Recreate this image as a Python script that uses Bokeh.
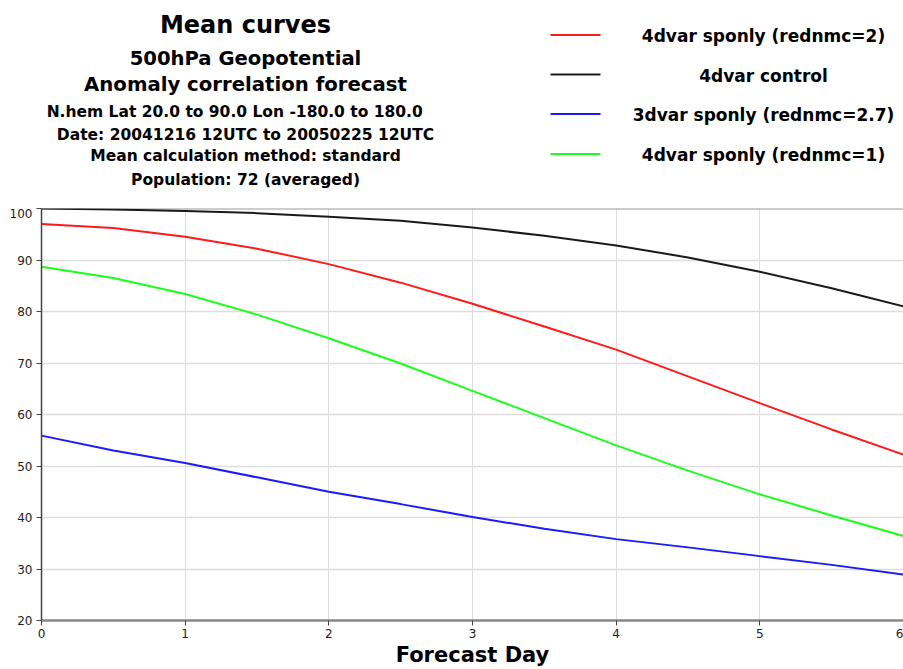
from bokeh.plotting import figure
from bokeh.layouts import column
from bokeh.models import Span, FixedTicker, ColumnDataSource
from bokeh.core.properties import value
from bokeh.embed import file_html
from bokeh.resources import INLINE

days = [0, 0.5, 1, 1.5, 2, 2.5, 3, 3.5, 4, 4.5, 5, 5.5, 6]
red_sponly2 = [97.0, 96.2, 94.5, 92.2, 89.2, 85.6, 81.5, 77.1, 72.6, 67.4, 62.2, 57.1, 52.2]
control = [100.0, 99.8, 99.5, 99.1, 98.4, 97.6, 96.3, 94.7, 92.8, 90.5, 87.7, 84.5, 81.0]
blue_3dvar = [55.9, 53.0, 50.6, 47.8, 45.0, 42.6, 40.1, 37.8, 35.8, 34.2, 32.5, 30.8, 28.9]
green_sponly1 = [88.7, 86.5, 83.4, 79.4, 74.8, 69.9, 64.6, 59.3, 54.0, 49.1, 44.5, 40.4, 36.4]

series_names = ["4dvar sponly (rednmc=2)", "4dvar control",
                "3dvar sponly (rednmc=2.7)", "4dvar sponly (rednmc=1)"]
series_values = [red_sponly2, control, blue_3dvar, green_sponly1]
series_colors = ["#ff1a1a", "#1a1a1a", "#1a1aff", "#1aff1a"]

x_ticks = [0, 1, 2, 3, 4, 5, 6]
y_ticks = [20, 30, 40, 50, 60, 70, 80, 90, 100]

title_lines = ["Mean curves", "500hPa Geopotential", "Anomaly correlation forecast",
               "N.hem  Lat  20.0 to 90.0 Lon  -180.0 to  180.0",
               "Date: 20041216 12UTC to 20050225 12UTC",
               "Mean calculation method: standard",
               "Population: 72 (averaged)"]

FONT = "DejaVu Sans"

# ---- header (title block + legend), pixel-space figure ----
head = figure(width=903, height=208, output_backend="svg", toolbar_location=None,
              x_range=(41, 903), y_range=(208, 0),
              min_border_left=41, min_border_right=0, min_border_top=0, min_border_bottom=0)
head.axis.visible = False
head.grid.visible = False
head.outline_line_color = None
head.background_fill_color = "white"
head.border_fill_color = "white"

title_sizes = ["24px", "19.6px", "19.7px", "15.5px", "15.5px", "15.5px", "15.5px"]
title_y = [24, 58, 83.5, 111.5, 134, 155.5, 179]
for txt, fs, ty in zip(title_lines, title_sizes, title_y):
    head.text(x=[245], y=[ty], text=[txt], text_font=value(FONT), text_font_size=fs,
              text_font_style="bold", text_align="center", text_baseline="middle",
              text_color="black")

leg_y = [34.5, 74, 113.5, 153.5]
for name, col, ly in zip(series_names, series_colors, leg_y):
    head.segment(x0=[550], y0=[ly], x1=[600], y1=[ly], line_color=col, line_width=2)
    head.text(x=[763], y=[ly + 1], text=[name], text_font=value(FONT), text_font_size="17px",
              text_font_style="bold", text_align="center", text_baseline="middle",
              text_color="black")

# ---- main chart ----
p = figure(width=903, height=461, output_backend="svg", toolbar_location=None,
           x_range=(0, 6), y_range=(20, 100),
           min_border_left=41, min_border_right=0, min_border_top=0, min_border_bottom=46)
p.outline_line_color = None
p.background_fill_color = "white"
p.border_fill_color = "white"

p.xgrid.ticker = FixedTicker(ticks=x_ticks)
p.ygrid.ticker = FixedTicker(ticks=y_ticks)
p.xgrid.grid_line_color = "#dddddd"
p.ygrid.grid_line_color = "#dddddd"
p.xgrid.grid_line_width = 1
p.ygrid.grid_line_width = 1.5

p.xaxis.ticker = FixedTicker(ticks=x_ticks)
p.yaxis.ticker = FixedTicker(ticks=y_ticks)
for ax in (p.xaxis[0], p.yaxis[0]):
    ax.major_label_text_font = FONT
    ax.major_label_text_font_size = "12px"
    ax.major_label_text_color = "#222222"
    ax.major_tick_in = 0
    ax.major_tick_out = 5
    ax.minor_tick_line_color = None
    ax.major_tick_line_color = "#444444"
p.yaxis.axis_line_color = "#444444"
p.yaxis.axis_line_width = 1.5
p.yaxis.major_label_standoff = 4
p.xaxis.axis_line_color = "#888888"
p.xaxis.axis_line_width = 2.5
p.xaxis.major_label_standoff = 3
p.xaxis.axis_label = "Forecast Day"
p.xaxis.axis_label_text_font = FONT
p.xaxis.axis_label_text_font_size = "21px"
p.xaxis.axis_label_text_font_style = "bold"
p.xaxis.axis_label_text_color = "black"
p.xaxis.axis_label_standoff = 2

p.add_layout(Span(location=100, dimension="width", line_color="#999999",
                  line_width=2, level="underlay"))

for vals, col, name in zip(series_values, series_colors, series_names):
    p.line(x="day", y="val", source=ColumnDataSource(dict(day=days, val=vals)),
           line_color=col, line_width=2, name=name)

layout = column(head, p, spacing=0)
open("out.html", "w").write(file_html(layout, INLINE))
